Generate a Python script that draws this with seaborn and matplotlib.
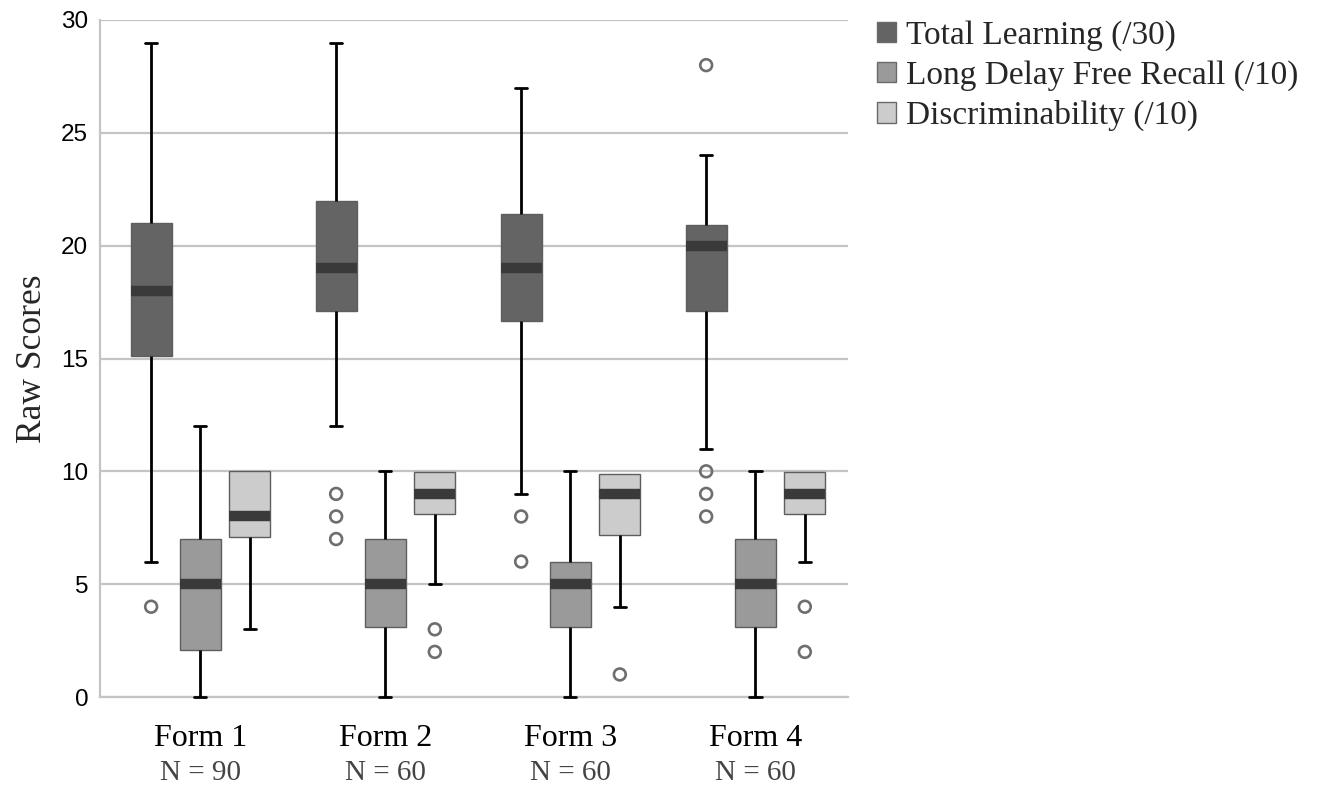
import numpy as np
import pandas as pd
import matplotlib
matplotlib.use("Agg")
import matplotlib.pyplot as plt
import matplotlib.transforms as mtransforms
from matplotlib.patches import Patch
import seaborn as sns

# ---------------- data ----------------
forms = ["Form 1", "Form 2", "Form 3", "Form 4"]
n_labels = ["N = 90", "N = 60", "N = 60", "N = 60"]
measures = ["Total Learning (/30)", "Long Delay Free Recall (/10)", "Discriminability (/10)"]

total_lo = [6, 12, 9, 11]
total_q1 = [15.1, 17.1, 16.65, 17.1]
total_med = [18, 19, 19, 20]
total_q3 = [21, 22, 21.4, 20.9]
total_hi = [29, 29, 27, 24]
total_out = [[4], [9, 8, 7], [8, 6], [28, 10, 9, 8]]

ldfr_lo = [0, 0, 0, 0]
ldfr_q1 = [2.1, 3.1, 3.1, 3.1]
ldfr_med = [5, 5, 5, 5]
ldfr_q3 = [7, 7, 6, 7]
ldfr_hi = [12, 10, 10, 10]
ldfr_out = [[], [], [], []]

disc_lo = [3, 5, 4, 6]
disc_q1 = [7.1, 8.1, 7.2, 8.1]
disc_med = [8, 9, 9, 9]
disc_q3 = [10, 9.95, 9.9, 9.95]
disc_hi = [10, 9.95, 9.9, 9.95]
disc_out = [[], [3, 2], [1], [4, 2]]

colors = ["#646464", "#9a9a9a", "#cccccc"]

# ---------------- tables built for seaborn ----------------
box_stats = {
    measures[0]: (total_lo, total_q1, total_med, total_q3, total_hi),
    measures[1]: (ldfr_lo, ldfr_q1, ldfr_med, ldfr_q3, ldfr_hi),
    measures[2]: (disc_lo, disc_q1, disc_med, disc_q3, disc_hi),
}
outs = {measures[0]: total_out, measures[1]: ldfr_out, measures[2]: disc_out}

rows = []
for m, (lo, q1, md, q3, hi) in box_stats.items():
    for i, f in enumerate(forms):
        for v in (lo[i], q1[i], md[i], q3[i], hi[i]):
            rows.append({"Form": f, "Measure": m, "Score": v})
box_df = pd.DataFrame(rows)

orows = []
for m, lst in outs.items():
    for i, f in enumerate(forms):
        for v in lst[i]:
            orows.append({"Form": f, "Measure": m, "Score": float(v)})
out_df = pd.DataFrame(orows)

# ---------------- figure ----------------
sns.set_style("white")
plt.rcParams["font.family"] = ["Liberation Serif", "DejaVu Serif"]

W, H = 1319, 787
fig = plt.figure(figsize=(W / 100, H / 100), dpi=100)
ax = fig.add_axes([100 / W, 1 - 697 / H, (848 - 100) / W, (697 - 20) / H])

grid_c = "#c4c4c4"
ax.set_axisbelow(True)
ax.yaxis.grid(True, color=grid_c, linewidth=1.6)
ax.xaxis.grid(False)

sns.boxplot(
    data=box_df, x="Form", y="Score", hue="Measure",
    order=forms, hue_order=measures, palette=colors,
    whis=(0, 100), showfliers=False, width=0.8, gap=0.17, dodge=True,
    linecolor="#5e5e5e", linewidth=1.0,
    whiskerprops=dict(color="black", linewidth=2.0),
    capprops=dict(color="black", linewidth=2.0),
    medianprops=dict(color="#3a3a3a", linewidth=7.5, solid_capstyle="butt"),
    capwidths=0.065, legend=False, ax=ax,
)

# hide caps of zero-length whiskers (box edge at the extreme)
zero = []
for ln in ax.lines:
    x, y = np.asarray(ln.get_xdata(), float), np.asarray(ln.get_ydata(), float)
    if len(x) == 2 and np.isclose(x[0], x[1]) and np.isclose(y[0], y[1]):
        zero.append((x[0], y[0]))
for ln in ax.lines:
    x, y = np.asarray(ln.get_xdata(), float), np.asarray(ln.get_ydata(), float)
    if len(x) == 2 and np.isclose(y[0], y[1]) and not np.isclose(x[0], x[1]):
        cx = x.mean()
        for zx, zy in zero:
            if np.isclose(cx, zx) and np.isclose(y[0], zy) and ln.get_linewidth() < 3:
                ln.set_visible(False)
for ln in ax.lines:
    ln.set_clip_on(False)
    ln.set_zorder(4)

n_before = len(ax.collections)
sns.stripplot(
    data=out_df, x="Form", y="Score", hue="Measure",
    order=forms, hue_order=measures, palette=colors,
    dodge=True, jitter=False, size=8.5, legend=False, ax=ax,
)
for coll in ax.collections[n_before:]:
    coll.set_facecolor("none")
    coll.set_edgecolor("#6e6e6e")
    coll.set_linewidth(1.9)

ax.set_xlim(-0.543, 3.5)
ax.set_ylim(0, 30)
ax.set_yticks([0, 5, 10, 15, 20, 25, 30])
ax.set_yticklabels([str(v) for v in [0, 5, 10, 15, 20, 25, 30]],
                   family=["Liberation Sans", "DejaVu Sans"], fontsize=17.5)
ax.tick_params(axis="y", length=0, pad=8.5, colors="black")

ax.set_xticks(range(len(forms)))
ax.set_xticklabels([])
ax.tick_params(axis="x", which="major", length=0)
ax.set_xticks([0.5, 1.5, 2.5], minor=True)
ax.tick_params(axis="x", which="minor", length=13, width=1.6, direction="inout", color=grid_c)

ax.set_xlabel("")
ax.set_ylabel("Raw Scores", fontsize=25.5, labelpad=9)

for s in ["top", "right"]:
    ax.spines[s].set_visible(False)
for s in ["left", "bottom"]:
    ax.spines[s].set_color(grid_c)
    ax.spines[s].set_linewidth(1.6)

trans = mtransforms.blended_transform_factory(ax.transData, ax.transAxes)
for i, (f, n) in enumerate(zip(forms, n_labels)):
    ax.text(i, -(746 - 697) / 677, f, transform=trans, ha="center", va="baseline",
            fontsize=23, color="black")
    ax.text(i, -(780 - 697) / 677, n, transform=trans, ha="center", va="baseline",
            fontsize=21, color="#444444")

handles = [Patch(facecolor=c, edgecolor="#6a6a6a", linewidth=1.0) for c in colors]
fig.legend(handles, measures, loc="upper left", bbox_to_anchor=(877 / W, 1 - 20 / H),
           frameon=False, fontsize=24, handlelength=0.56, handleheight=0.56,
           handletextpad=0.3, labelspacing=0.28, borderaxespad=0, borderpad=0)

fig.savefig("out.png", dpi=100)
